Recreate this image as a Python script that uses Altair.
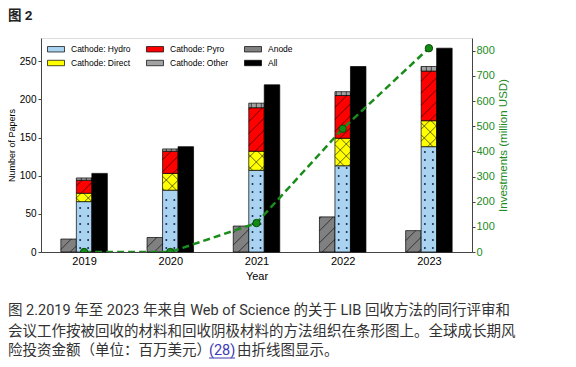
import altair as alt
import numpy as np
import pandas as pd

# ---------------- data ----------------
years = [2019, 2020, 2021, 2022, 2023]
hydro = [66, 81, 107, 113, 138]
direct = [11, 22, 25, 36, 34]
pyro = [17, 29, 57, 56, 65]
other = [3, 3, 6, 5, 6]
anode = [17, 19, 34, 46, 28]
all_papers = [103, 138, 219, 243, 267]
investments = [0, 0, 115, 490, 810]

left_ticks = [0, 50, 100, 150, 200, 250]
right_ticks = [0, 100, 200, 300, 400, 500, 600, 700, 800]

# legend order (filled column by column, 3 columns)
categories = ["Cathode: Hydro", "Cathode: Direct", "Cathode: Pyro",
              "Cathode: Other", "Anode", "All"]
colors = ["#a9d3f0", "#ffff00", "#ff0000", "#a3a3a3", "#808080", "#000000"]

fig_title = "图 2"
caption_1 = "图 2.2019 年至 2023 年来自 Web of Science 的关于 LIB 回收方法的同行评审和"
caption_2 = "会议工作按被回收的材料和回收阴极材料的方法组织在条形图上。全球成长期风"
caption_3a = "险投资金额（单位：百万美元）"
caption_3b = "(28)"
caption_3c = "由折线图显示。"

# ---------------- layout ----------------
W, H = 431, 214
YMAX_L = 280.35
YMAX_R = 850.5
KX = W / 5.0            # px per year
KY = H / YMAX_L         # px per paper
BW = 15.5 / KX          # bar width in years
PAGE_X0, PAGE_Y0 = 41, 38
FONT = "Liberation Sans, Arial, sans-serif"
CJK = "Roboto, 'Noto Sans CJK SC', sans-serif"
GREEN = "#228b22"
LINK = "#3b3bb5"

# ---------------- bar rectangles ----------------
rows = []
for i, yr in enumerate(years):
    rows.append(dict(cat="Anode", x0=yr - 1.5 * BW, x1=yr - 0.5 * BW, y0=0, y1=anode[i]))
    base = 0
    for cat, arr in [("Cathode: Hydro", hydro), ("Cathode: Direct", direct),
                     ("Cathode: Pyro", pyro), ("Cathode: Other", other)]:
        rows.append(dict(cat=cat, x0=yr - 0.5 * BW, x1=yr + 0.5 * BW, y0=base, y1=base + arr[i]))
        base += arr[i]
    rows.append(dict(cat="All", x0=yr + 0.5 * BW, x1=yr + 1.5 * BW, y0=0, y1=all_papers[i]))
bars = pd.DataFrame(rows)


def diag(r, sign, spacing):
    px0, px1 = r.x0 * KX, r.x1 * KX
    py0, py1 = r.y0 * KY, r.y1 * KY
    segs = []
    if sign > 0:
        cmin, cmax = px0 - py1, px1 - py0
    else:
        cmin, cmax = px0 + py0, px1 + py1
    c = np.floor(cmin / spacing) * spacing
    while c <= cmax:
        if sign > 0:
            a, b = max(px0, py0 + c), min(px1, py1 + c)
            if b - a > 0.6:
                segs.append((a, a - c, b, b - c))
        else:
            a, b = max(px0, c - py1), min(px1, c - py0)
            if b - a > 0.6:
                segs.append((a, c - a, b, c - b))
        c += spacing
    return [dict(xa=a / KX, ya=ya / KY, xb=b / KX, yb=yb / KY) for a, ya, b, yb in segs]


hatch = []
dots = []
for r in bars.itertuples():
    if r.cat in ("Cathode: Pyro", "Anode"):
        hatch += diag(r, 1, 12.0)
    elif r.cat == "Cathode: Direct":
        hatch += diag(r, 1, 12.0)
        hatch += diag(r, -1, 12.0)
    elif r.cat == "Cathode: Other":
        px0, px1 = r.x0 * KX, r.x1 * KX
        p = np.ceil(px0 / 5.0) * 5.0
        while p < px1 - 0.5:
            hatch.append(dict(xa=p / KX, ya=r.y0, xb=p / KX, yb=r.y1))
            p += 5.0
    elif r.cat == "Cathode: Hydro":
        cx = (r.x0 + r.x1) / 2
        py = r.y0 * KY + 4.0
        while py < r.y1 * KY - 2.0:
            for off in (-4.0, 4.0):
                dots.append(dict(x=cx + off / KX, y=py / KY))
            py += 8.0
hatch = pd.DataFrame(hatch)
dots = pd.DataFrame(dots)

inv = pd.DataFrame(dict(year=years, inv=investments))

xscale = alt.Scale(domain=[2018.5, 2023.5], nice=False, zero=False)
yscale = alt.Scale(domain=[0, YMAX_L], nice=False)
rscale = alt.Scale(domain=[0, YMAX_R], nice=False)

xaxis = alt.Axis(values=years, format="d", title="Year", ticks=False, labelPadding=3,
                 labelFontSize=11, labelFont=FONT, labelColor="black",
                 titleFontSize=11, titleFont=FONT, titleFontWeight="normal", titleColor="black",
                 titlePadding=4, domainColor="#444", grid=False)
yaxis = alt.Axis(values=left_ticks, title="Number of Papers", tickSize=3, tickColor="#444",
                 domainColor="#444", labelFontSize=10, labelFont=FONT, labelColor="black",
                 labelPadding=2, titleFontSize=9, titleFont=FONT, titleFontWeight="normal",
                 titleColor="black", titlePadding=2.5, grid=False)

legend = alt.Legend(orient="none", legendX=6, legendY=2, columns=3, title=None,
                    symbolType="M-1,-0.32H1V0.32H-1Z", symbolSize=289,
                    symbolStrokeColor="black", symbolStrokeWidth=0.7, symbolOpacity=1,
                    labelFontSize=8.5, labelFont=FONT, labelColor="black", labelOffset=6,
                    columnPadding=14, rowPadding=-4, padding=0)

bar_layer = alt.Chart(bars).mark_rect(stroke="black", strokeWidth=0.7).encode(
    x=alt.X("x0:Q", scale=xscale, axis=xaxis),
    x2="x1:Q",
    y=alt.Y("y0:Q", scale=yscale, axis=yaxis),
    y2="y1:Q",
    color=alt.Color("cat:N", scale=alt.Scale(domain=categories, range=colors), legend=legend),
)

hatch_layer = alt.Chart(hatch).mark_rule(color="black", strokeWidth=0.6).encode(
    x=alt.X("xa:Q", scale=xscale, axis=xaxis),
    x2="xb:Q",
    y=alt.Y("ya:Q", scale=yscale, axis=yaxis),
    y2="yb:Q",
)

dot_layer = alt.Chart(dots).mark_circle(size=4, color="#1c2a45", opacity=1).encode(
    x=alt.X("x:Q", scale=xscale, axis=xaxis),
    y=alt.Y("y:Q", scale=yscale, axis=yaxis),
)

papers = alt.layer(bar_layer, hatch_layer, dot_layer)

raxis = alt.Axis(values=right_ticks, orient="right", title="Investments (million USD)",
                 tickSize=3, tickColor="#444", domainColor="#444",
                 labelFontSize=11, labelFont=FONT, labelColor=GREEN, labelPadding=1,
                 titleFontSize=11.5, titleFont=FONT, titleFontWeight="normal", titleColor=GREEN,
                 titleAngle=270, titleBaseline="top", titlePadding=3, grid=False)

line_layer = alt.Chart(inv).mark_line(color="#1a8c1a", strokeWidth=2.5, strokeDash=[7, 4],
                                      clip=True).encode(
    x=alt.X("year:Q", scale=xscale, axis=xaxis),
    y=alt.Y("inv:Q", scale=rscale, axis=raxis),
)
point_layer = alt.Chart(inv).mark_point(shape="circle", filled=True, size=55, fill="#138a13",
                                        stroke="#0a4f0a", strokeWidth=1, opacity=1,
                                        clip=True).encode(
    x=alt.X("year:Q", scale=xscale, axis=xaxis),
    y=alt.Y("inv:Q", scale=rscale, axis=raxis),
)
money = alt.layer(line_layer, point_layer)


def text_at(txt, px, py, size, color="#333333", weight="normal", font=CJK):
    return alt.Chart(pd.DataFrame({"t": [txt]})).mark_text(
        align="left", baseline="middle", fontSize=size, font=font, color=color,
        fontWeight=weight).encode(
        text="t:N", x=alt.value(px - PAGE_X0), y=alt.value(py - PAGE_Y0))


title_t = text_at(fig_title, 8, 16, 13.5, color="#222222", weight="bold")
cap1 = text_at(caption_1, 8, 310.7, 14.5)
cap2 = text_at(caption_2, 8, 332.2, 14.5)
cap3a = text_at(caption_3a, 8, 351.3, 14.5)
cap3b = text_at(caption_3b, 209, 351.3, 14.5, color=LINK)
cap3c = text_at(caption_3c, 237, 351.3, 14.5)

link_underline = alt.Chart(pd.DataFrame({"t": [caption_3b]})).mark_rule(
    color=LINK, strokeWidth=1).encode(
    x=alt.value(209 - PAGE_X0), x2=alt.value(235 - PAGE_X0), y=alt.value(358 - PAGE_Y0))

chart = alt.layer(papers, money, title_t, cap1, cap2, cap3a, cap3b, cap3c,
                  link_underline).resolve_scale(
    y="independent"
).properties(
    width=W, height=H, autosize="none",
    padding={"left": PAGE_X0 - 8, "top": PAGE_Y0 - 8, "right": 90, "bottom": 107},
).configure_view(stroke=None).configure(background="white")

chart.save("out.html", embed_options={"renderer": "svg", "actions": False})
